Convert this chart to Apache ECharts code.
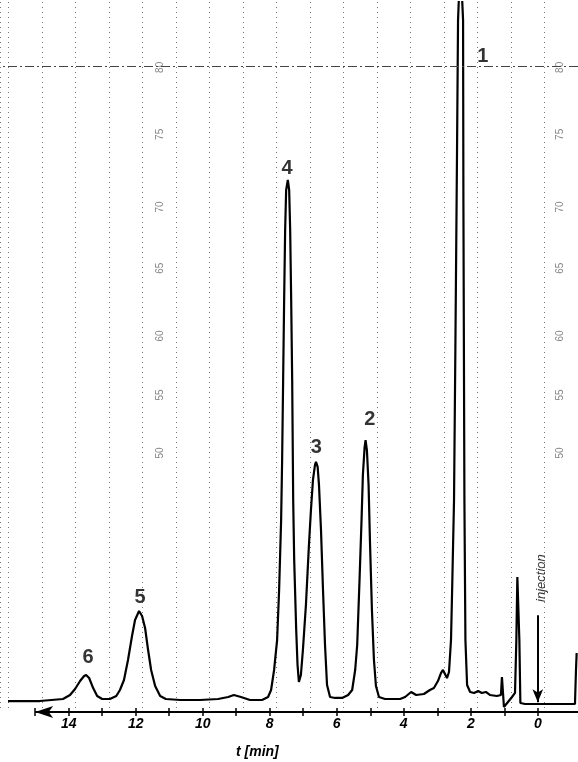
<!DOCTYPE html>
<html>
<head>
<meta charset="utf-8">
<script src="https://cdn.jsdelivr.net/npm/echarts@6/dist/echarts.min.js"></script>
<style>
html,body{margin:0;padding:0;background:#fff;}
#chart{width:578px;height:762px;}
</style>
</head>
<body>
<div id="chart"></div>
<script>
// retention time (min) and detector signal (recorder units)
const times = [15.81,14.86,14.17,13.96,13.81,13.66,13.54,13.48,13.39,13.27,13.15,13.00,12.77,12.58,
  12.47,12.35,12.23,12.11,12.02,11.90,11.81,11.72,11.63,11.54,11.42,11.27,11.10,10.67,10.08,9.54,9.24,9.07,8.86,8.59,8.23,8.05,
  7.96,7.87,7.78,7.72,7.66,7.63,7.60,7.57,7.54,7.51,7.46,7.42,7.39,7.36,7.33,7.30,7.27,7.21,7.17,7.13,7.07,7.01,
  6.92,6.83,6.77,6.71,6.65,6.62,6.57,6.53,6.47,6.41,6.35,6.29,6.20,6.05,5.84,5.66,5.54,
  5.45,5.39,5.32,5.26,5.22,5.17,5.14,5.10,5.05,5.01,4.95,4.89,4.83,4.74,4.56,4.11,3.96,3.78,3.63,3.40,3.22,3.10,2.98,2.89,2.83,2.77,2.71,
  2.65,2.59,2.55,2.50,2.46,2.41,2.38,2.31,2.23,2.22,2.19,2.16,2.11,2.02,1.90,1.78,1.67,1.55,1.43,1.22,1.10,1.07,1.04,1.01,0.89,0.77,0.68,
  0.64,0.61,0.58,0.55,0.52,0.38,-1.11,-1.14,-1.16];
const signal = [1.36,1.36,1.61,2.11,2.85,3.84,4.46,4.59,4.21,2.97,1.98,1.61,1.61,1.98,
  2.73,3.97,6.45,9.42,11.40,12.52,11.90,10.41,7.68,5.21,3.22,1.98,1.61,1.49,1.49,1.61,1.86,2.11,1.86,1.49,1.49,1.86,
  2.73,5.21,8.92,15.12,23.80,31.23,41.15,51.07,59.74,64.70,65.94,64.70,59.74,51.07,41.15,26.28,18.84,10.16,5.83,3.72,4.59,7.68,
  13.26,20.70,25.04,28.76,30.61,30.99,30.37,28.14,22.56,15.12,8.30,3.35,1.86,1.74,1.74,2.11,2.73,
  5.21,8.30,16.36,23.80,29.38,32.72,33.71,32.47,28.14,21.32,12.64,6.45,3.22,1.86,1.61,1.61,1.86,2.48,2.11,2.23,2.73,2.97,3.84,4.83,5.21,4.71,4.21,
  4.96,8.92,16.36,26.28,44.87,69.66,85.77,93.2,85.77,63.46,26.28,8.92,3.35,2.48,2.36,2.60,2.36,2.48,2.11,1.98,2.11,4.34,4.34,0.62,1.24,1.86,2.36,
  8.92,16.73,16.73,8.92,1.12,0.99,0.99,5.21,7.31];

// peak annotations
const peakNames = ['1','2','3','4','5','6'];
const peakLabelTimes = [1.64, 5.01, 6.61, 7.48, 11.87, 13.42];
const peakLabelHeights = [81.2, 36.2, 32.8, 67.4, 14.25, 6.7];

// axis ticks
const tickValues = [0,1,2,3,4,5,6,7,8,9,10,11,12,13,14,15];
const tickLabels = [0,2,4,6,8,10,12,14];

// recorder paper scale labels
const paperLabels = ['80','75','70','65','60','55','50'];
const paperLabelHeights = [79.9, 71.6, 62.6, 55.0, 46.6, 39.3, 32.1];
const paperColumns = [11.27, -0.66];

const injectionTime = 0;
const injectionArrow = [12.0, 1.2];
const injectionTextHeight = 16.6;
const xMin = -1.2, xMax = 16.05, yMin = 0, yMax = 88;

const chart = echarts.init(document.getElementById('chart'), null, {renderer:'canvas'});
const font = '"Liberation Sans", Arial, sans-serif';

const paperData = [];
paperColumns.forEach(function(t){
  paperLabels.forEach(function(s,i){ paperData.push({value:[t, paperLabelHeights[i]], name:s}); });
});

chart.setOption({
  animation:false,
  backgroundColor:'#ffffff',
  grid:{left:0,right:0,top:2,bottom:50,containLabel:false},
  xAxis:[
    {type:'value',inverse:true,min:xMin,max:xMax,position:'bottom',
     axisLine:{show:false},
     axisTick:{show:true,customValues:tickValues,length:4,lineStyle:{color:'#000',width:1.5}},
     axisLabel:{show:true,customValues:tickLabels,margin:5,fontSize:14,fontStyle:'italic',fontWeight:'bold',color:'#000',fontFamily:font},
     splitLine:{show:false}},
    {type:'value',inverse:true,min:xMin,max:xMax,position:'bottom',
     axisLine:{show:false},
     axisTick:{show:true,inside:true,customValues:tickValues,length:4,lineStyle:{color:'#000',width:1.5}},
     axisLabel:{show:false},splitLine:{show:false}},
    {type:'value',inverse:true,min:-1,max:16.25,interval:1,position:'bottom',
     axisLine:{show:false},axisTick:{show:false},axisLabel:{show:false},
     splitLine:{show:true,lineStyle:{color:'#777',width:1,type:[1,4]}}}
  ],
  yAxis:{type:'value',min:yMin,max:yMax,show:false},
  series:[
    {type:'line',xAxisIndex:0,data:times.map(function(t,i){return [t,signal[i]];}),
     showSymbol:false,symbol:'none',clip:true,
     lineStyle:{color:'#000',width:2.2},
     markLine:{silent:true,symbol:['none','none'],label:{show:false},
       data:[
         [{coord:[15.0,0],symbol:'arrow',symbolSize:[9,18]},{coord:[xMin,0],symbol:'none'}],
         [{coord:[injectionTime,injectionArrow[0]],symbol:'none'},{coord:[injectionTime,injectionArrow[1]],symbol:'arrow',symbolSize:[8,13]}],
         {yAxis:80,lineStyle:{color:'#444',width:1,type:[9,3,2,3]}}
       ],
       lineStyle:{color:'#000',width:2,type:'solid'}
     }},
    {type:'scatter',xAxisIndex:0,symbol:'circle',symbolSize:1,itemStyle:{color:'rgba(0,0,0,0)'},
     data:peakNames.map(function(n,i){return {value:[peakLabelTimes[i],peakLabelHeights[i]],name:n};}),
     label:{show:true,position:'inside',formatter:'{b}',fontSize:20,fontWeight:'bold',color:'#000',fontFamily:font}},
    {type:'scatter',xAxisIndex:0,symbol:'circle',symbolSize:1,itemStyle:{color:'rgba(0,0,0,0)'},
     data:[{value:[injectionTime-0.1,injectionTextHeight],name:'injection'}],
     label:{show:true,position:'inside',rotate:90,formatter:'{b}',fontSize:13,fontStyle:'italic',color:'#000',fontFamily:font}},
    {type:'scatter',xAxisIndex:0,symbol:'circle',symbolSize:1,itemStyle:{color:'rgba(0,0,0,0)'},
     data:paperData,
     label:{show:true,position:'inside',rotate:90,formatter:'{b}',fontSize:10,color:'#666',fontFamily:font}}
  ],
  graphic:[
    {type:'text',left:236,top:745,style:{text:'t [min]',font:'italic bold 14px "Liberation Sans", Arial, sans-serif',fill:'#000'}}
  ]
});
</script>
</body>
</html>
